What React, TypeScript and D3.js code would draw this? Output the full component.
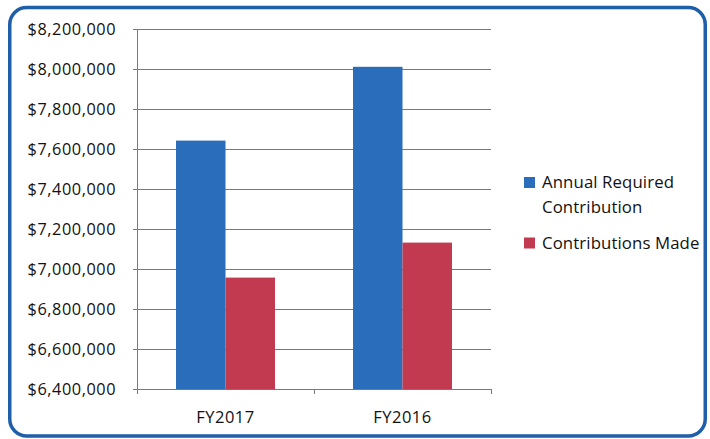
import React from "react";
import * as d3 from "d3";

const categories = ["FY2017", "FY2016"];
const seriesNames = ["Annual Required Contribution", "Contributions Made"];
const annualRequired = [7642000, 8011000];
const contributionsMade = [6957000, 7132000];
const yTicks = [6400000, 6600000, 6800000, 7000000, 7200000, 7400000, 7600000, 7800000, 8000000, 8200000];

const W = 710;
const H = 439;
const FONT = "'Open Sans', 'Liberation Sans', sans-serif";

export default function App() {
  const left = 137;
  const right = 491;
  const top = 29;
  const bottom = 389;

  const y = d3.scaleLinear().domain([6400000, 8200000]).range([bottom, top]);
  const x0 = d3.scaleBand<string>().domain(categories).range([left, right]).paddingInner(0).paddingOuter(0);
  const groupPad = (x0.bandwidth() - 99) / 2;
  const x1 = d3.scaleBand<number>().domain([0, 1]).range([groupPad, x0.bandwidth() - groupPad]).padding(0);
  const colors = ["#2a6dbb", "#c23a50"];
  const series = [annualRequired, contributionsMade];
  const fmt = (v: number) => "$" + d3.format(",")(v);

  return (
    <svg width={W} height={H} style={{ position: "absolute", left: 0, top: 0, background: "#fff" }}>
      <rect x={9.75} y={7.5} width={695.5} height={428.5} rx={17} ry={17} fill="#fff" stroke="#1f5ea8" strokeWidth={3.5} />
      {yTicks.map((t) => (
        <g key={t}>
          <line x1={left - 4} x2={right} y1={Math.round(y(t)) + 0.5} y2={Math.round(y(t)) + 0.5} stroke="#7a7a7a" strokeWidth={1} />
          <text x={116} y={y(t) + 6} textAnchor="end" fontFamily={FONT} fontSize={16.3} letterSpacing={0.55} fill="#111">
            {fmt(t)}
          </text>
        </g>
      ))}
      <line x1={left + 0.5} x2={left + 0.5} y1={top} y2={bottom + 5} stroke="#7a7a7a" strokeWidth={1} />
      {[...categories.map((c) => x0(c)!), right].map((xv, i) => (
        <line key={i} x1={xv + 0.5} x2={xv + 0.5} y1={bottom} y2={bottom + 5} stroke="#7a7a7a" strokeWidth={1} />
      ))}
      {categories.map((c, ci) => (
        <g key={c} transform={`translate(${x0(c)},0)`}>
          {series.map((s, si) => (
            <rect key={si} x={x1(si)} y={y(s[ci])} width={x1.bandwidth()} height={bottom - y(s[ci])} fill={colors[si]} />
          ))}
          <text x={x0.bandwidth() / 2} y={423} textAnchor="middle" fontFamily={FONT} fontSize={16.5} letterSpacing={0.5} fill="#111">
            {c}
          </text>
        </g>
      ))}
      <g fontFamily={FONT} fontSize={16.8} fill="#111" letterSpacing={0.1}>
        <rect x={524} y={177} width={11} height={11} fill={colors[0]} />
        <text x={542} y={188}>Annual Required</text>
        <text x={542} y={212.5}>Contribution</text>
        <rect x={524} y={237.5} width={11} height={11} fill={colors[1]} />
        <text x={542} y={248.5}>{seriesNames[1]}</text>
      </g>
    </svg>
  );
}
